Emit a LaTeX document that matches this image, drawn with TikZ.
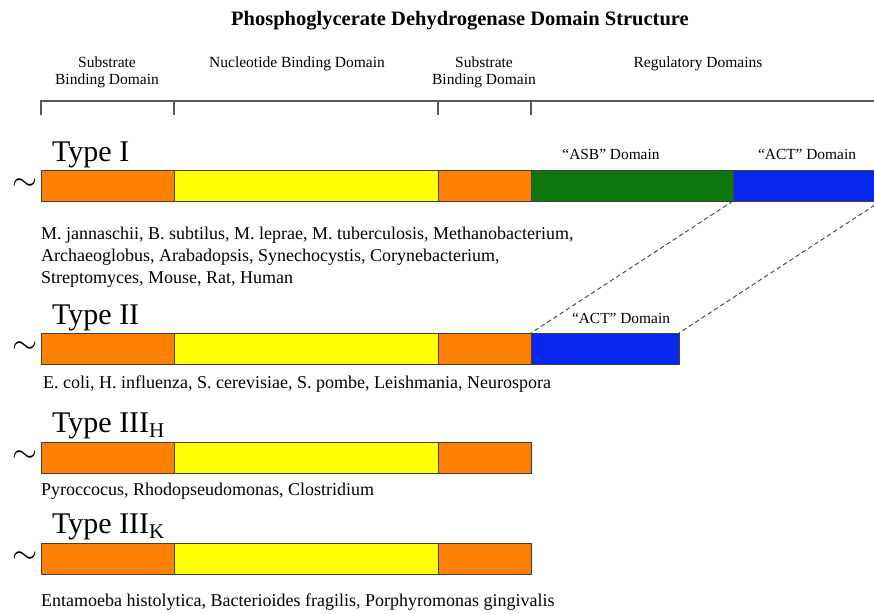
\documentclass[tikz,border=0pt]{standalone}
\usepackage{fontspec}
\setmainfont{Liberation Serif}
\begin{document}
\begin{tikzpicture}[x=1pt,y=-1pt,
  segbox/.style={draw=black!75, line width=0.8pt, rectangle, inner sep=0pt, outer sep=0pt, minimum height=31pt, anchor=north west},
  hdr/.style={font=\fontsize{15.5}{17}\selectfont, align=center, anchor=base, inner sep=0pt},
  typelbl/.style={font=\fontsize{30}{32}\selectfont, anchor=base west, inner sep=0pt},
  species/.style={font=\fontsize{18}{22}\selectfont, anchor=base west, inner sep=0pt, align=left},
  domlbl/.style={font=\fontsize{15.4}{16}\selectfont, anchor=base, inner sep=0pt},
  tildemark/.style={inner sep=0pt},
  bracketline/.style={draw=black!65, line width=1.2pt},
  linkline/.style={draw=black!75, dashed, dash pattern=on 4.5pt off 3pt, line width=0.9pt}]
\definecolor{segorange}{RGB}{255,128,0}
\definecolor{segyellow}{RGB}{255,255,0}
\definecolor{seggreen}{RGB}{14,120,14}
\definecolor{segblue}{RGB}{8,40,240}
\newcommand{\bigtilde}{\resizebox{25pt}{!}{$\sim$}}
\clip (0,0) rectangle (874,613);
\fill[white] (0,0) rectangle (874,613);

% title
\node[font=\bfseries\fontsize{20.5}{22}\selectfont, anchor=base, inner sep=0pt] (title) at (460,25) {Phosphoglycerate Dehydrogenase Domain Structure};

% header labels
\node[hdr] (h1) at (107,84) {Substrate\\Binding Domain};
\node[hdr] (h2) at (297,67) {Nucleotide Binding Domain};
\node[hdr] (h3) at (484,84) {Substrate\\Binding Domain};
\node[hdr] (h4) at (698,67) {Regulatory Domains};

% bracket
\draw[bracketline] (41,115) -- (41,101) -- (881,101);
\draw[bracketline] (174,101) -- (174,115);
\draw[bracketline] (438,101) -- (438,115);
\draw[bracketline] (531,101) -- (531,115);

% Type I
\node[typelbl] (t1) at (52,161) {Type I};
\node[tildemark] (tl1) at (25,185) {\bigtilde};
\node[segbox, fill=segorange, minimum width=133pt] (a1) at (41,170) {};
\node[segbox, fill=segyellow, minimum width=264pt] (a2) at (174,170) {};
\node[segbox, fill=segorange, minimum width=93pt] (a3) at (438,170) {};
\node[segbox, fill=seggreen, minimum width=202pt] (a4) at (531,170) {};
\node[segbox, fill=segblue, minimum width=148pt] (a5) at (733,170) {};
\node[domlbl] (asb) at (611,159) {``ASB'' Domain};
\node[domlbl] (act1) at (807,159) {``ACT'' Domain};
\node[species] (s1) at (41,283) {M. jannaschii, B. subtilus, M. leprae, M. tuberculosis, Methanobacterium,\\Archaeoglobus, Arabadopsis, Synechocystis, Corynebacterium,\\Streptomyces, Mouse, Rat, Human};

% Type II
\node[typelbl] (t2) at (52,324) {Type II};
\node[tildemark] (tl2) at (25,348) {\bigtilde};
\node[segbox, fill=segorange, minimum width=133pt] (b1) at (41,333) {};
\node[segbox, fill=segyellow, minimum width=264pt] (b2) at (174,333) {};
\node[segbox, fill=segorange, minimum width=93pt] (b3) at (438,333) {};
\node[segbox, fill=segblue, minimum width=148pt] (b4) at (531,333) {};
\node[domlbl] (act2) at (621,323) {``ACT'' Domain};
\node[species] (s2) at (43,388) {E. coli, H. influenza, S. cerevisiae, S. pombe, Leishmania, Neurospora};

% links
\draw[linkline] (a5.south west) -- (b4.north west);
\draw[linkline] (a5.south east) -- (b4.north east);

% Type III H
\node[typelbl] (t3) at (52,432) {Type III$_{\mathrm{H}}$};
\node[tildemark] (tl3) at (25,457) {\bigtilde};
\node[segbox, fill=segorange, minimum width=133pt] (c1) at (41,442) {};
\node[segbox, fill=segyellow, minimum width=264pt] (c2) at (174,442) {};
\node[segbox, fill=segorange, minimum width=93pt] (c3) at (438,442) {};
\node[species] (s3) at (41,495) {Pyroccocus, Rhodopseudomonas, Clostridium};

% Type III K
\node[typelbl] (t4) at (52,533) {Type III$_{\mathrm{K}}$};
\node[tildemark] (tl4) at (25,558) {\bigtilde};
\node[segbox, fill=segorange, minimum width=133pt] (d1) at (41,543) {};
\node[segbox, fill=segyellow, minimum width=264pt] (d2) at (174,543) {};
\node[segbox, fill=segorange, minimum width=93pt] (d3) at (438,543) {};
\node[species] (s4) at (41,606) {Entamoeba histolytica, Bacterioides fragilis, Porphyromonas gingivalis};
\end{tikzpicture}
\end{document}
